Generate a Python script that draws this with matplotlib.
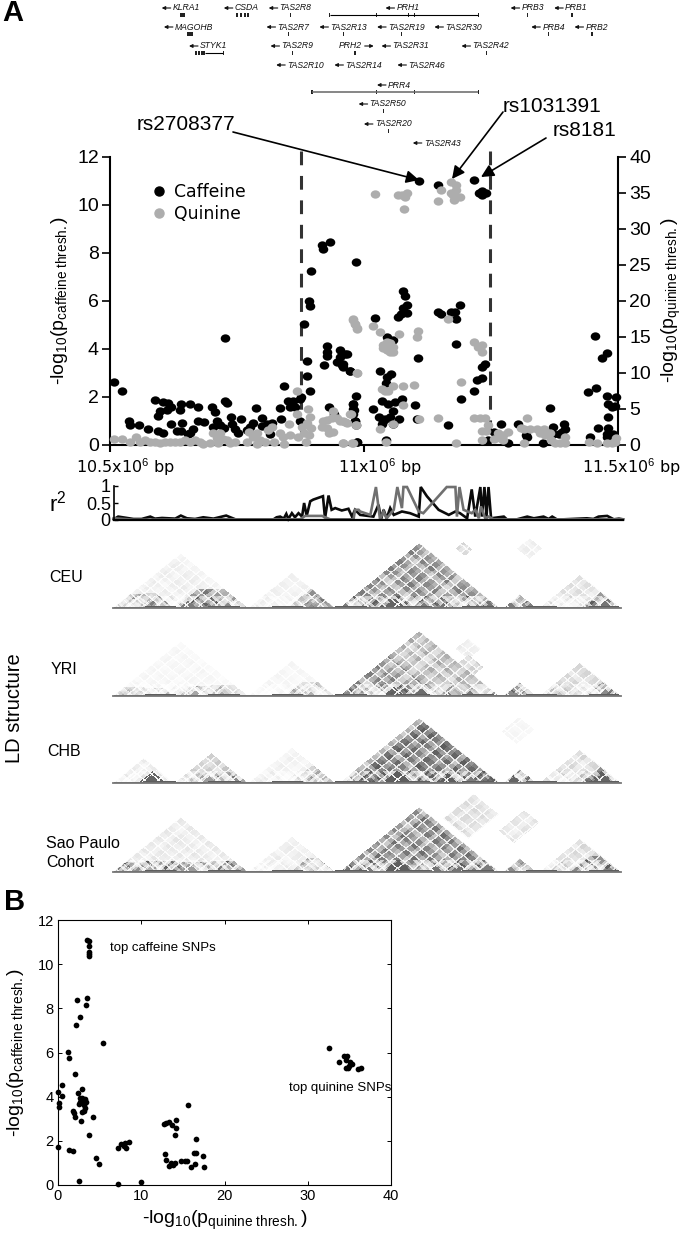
import numpy as np
import matplotlib
matplotlib.use("Agg")
import matplotlib.pyplot as plt
from matplotlib.colors import LinearSegmentedColormap
from matplotlib.markers import MarkerStyle
from matplotlib.transforms import Affine2D
from matplotlib.lines import Line2D

plt.rcParams['font.family'] = ['Liberation Sans', 'DejaVu Sans']
plt.rcParams['mathtext.fontset'] = 'custom'
plt.rcParams['mathtext.rm'] = 'Liberation Sans'
plt.rcParams['mathtext.it'] = 'Liberation Sans:italic'
plt.rcParams['mathtext.bf'] = 'Liberation Sans:bold'

W, H = 686, 1238

# ---- panel A scatter (kb after 10.5 Mb, -log10 p)
caffeine_kb = [8,24,37,39,58,75,89,95,99,95,105,105,115,112,121,121,131,139,138,141,139,154,157,164,157,174,174,185,
    200,207,210,203,217,225,226,230,226,238,241,247,252,257,269,281,276,287,299,299,310,318,315,337,335,343,351,354,
    361,364,374,375,374,382,387,388,393,391,394,395,417,420,434,484,427,427,427,422,453,466,452,446,459,456,472,484,
    478,480,432,440,482,486,
    609,645,717,732,740,732,727,577,580,584,577,584,572,566,522,645,652,671,679,681,688,545,558,681,607,738,732,732,
    722,717,691,665,532,553,545,543,459,463,472,479,478,479,482,484,486,518,535,548,561,575,557,600,530,541,551,569,
    535,538,605,557,543,745,756,770,784,804,820,819,866,873,894,896,883,889,853,873,955,979,968,940,957,978,981,988,
    994,996,980,961,981,944,978,991,978]
caffeine_val = [2.62,2.25,.97,.8,.82,.65,1.87,1.2,1.4,.58,.47,1.76,1.72,1.45,1.55,.86,.58,1.7,1.45,.9,.58,.45,1.7,.65,.5,1.55,.97,.93,
    1.55,1.35,1.0,.75,.8,.68,1.8,1.74,4.44,1.14,.86,.65,.47,1.05,.6,.9,.72,1.54,1.1,.78,.86,.9,.45,1.05,1.53,2.42,1.8,1.55,
    1.83,1.55,1.9,2.0,.97,5.03,3.47,2.87,2.25,5.97,5.76,7.22,8.33,8.14,8.44,7.6,4.12,3.85,3.67,3.3,3.92,3.78,3.64,3.43,3.36,3.3,3.08,2.04,
    1.7,1.42,1.55,1.28,1.0,.1,
    11.0,10.8,11.03,10.58,10.5,10.38,10.5,6.39,6.17,5.83,5.7,5.49,5.44,5.3,5.26,5.53,5.44,5.53,5.53,5.24,5.83,4.5,4.36,4.17,3.61,3.36,3.22,2.78,
    2.69,2.24,1.89,.8,3.08,2.92,2.8,2.57,3.25,3.78,3.08,1.7,1.49,1.28,.97,.8,.12,1.46,1.83,1.67,1.76,1.9,1.39,1.64,1.14,1.07,1.14,1.05,
    .86,1.0,1.05,.86,.17,.17,.51,.86,.06,.86,.3,.4,1.53,.75,.86,.65,.44,.51,.06,.44,4.54,3.82,3.61,2.17,2.37,2.04,1.7,1.55,
    1.62,1.97,1.14,.68,.68,.3,.44,.44,.3]
quinine_kb = [7,23,39,52,59,69,79,89,98,108,118,128,138,148,157,167,177,184,197,203,210,217,223,213,230,236,246,269,274,282,
    289,295,289,305,312,318,322,343,335,341,353,354,369,369,371,378,381,389,393,387,395,391,385,420,417,427,432,438,438,427,
    437,446,459,466,458,477,479,482,486,486,474,484,
    522,566,574,585,581,579,671,682,652,671,682,676,688,678,645,479,482,486,518,532,568,607,604,665,545,538,537,551,558,558,
    545,551,541,717,732,725,732,486,535,541,548,558,577,599,691,577,472,463,453,484,645,609,558,532,717,728,738,732,745,740,
    732,478,459,543,681,755,768,774,784,774,764,820,810,814,827,840,854,846,856,866,869,814,876,886,896,896,942,958,978,994,988,997]
quinine_val = [.74,.74,.4,1.1,.3,.65,.3,.3,.2,.3,.4,.3,.4,.65,.3,.65,.3,.1,.2,1.6,.9,1.6,.74,.2,.65,.2,.4,.4,1.8,1.1,
    1.6,.65,.1,.4,2.0,2.5,.3,.1,1.6,1.1,2.9,1.3,7.4,4.3,1.1,2.5,1.6,4.9,3.8,3.0,2.3,1.3,.3,3.2,2.5,2.3,1.6,1.8,4.7,3.4,
    3.7,3.7,3.2,3.0,.2,.2,17.3,16.8,16.2,10.0,4.3,2.7,
    34.8,34.6,34.7,34.9,34.4,32.7,36.4,36.1,35.3,35.0,35.3,34.7,34.4,33.9,33.8,17.4,16.7,16.1,16.5,15.6,15.3,15.7,14.9,17.5,14.3,13.8,13.4,14.1,13.6,12.9,
    13.1,12.9,13.6,14.2,13.8,13.6,12.8,10.0,7.7,7.4,7.5,8.1,8.1,8.3,8.7,5.5,4.3,3.1,3.2,2.7,3.75,3.6,2.9,2.1,3.7,3.75,3.75,1.9,2.7,1.9,
    .65,.2,.2,.4,.2,.74,.9,1.3,1.8,.65,1.6,3.7,2.3,2.1,2.1,2.1,2.1,1.6,1.3,1.6,.65,.2,.2,.2,.2,1.0,.4,.2,.2,.4,.2,.9]

# ---- r2 traces
r2_black_kb = [0,9,22,39,55,72,81,95,108,121,132,144,160,176,196,221,239,255,314,320,327,334,339,343,350,356,363,370,374,379,386,392,411,415,422,428,435,448,461,468,474,484,
    510,520,525,530,536,543,550,566,582,599,603,615,638,658,671,680,694,703,710,720,723,728,732,736,741,766,772,792,812,825,844,854,861,870,884,929,942,952,969,982,992,1000]
r2_black = [.02,.1,.07,.03,.03,.1,.04,.06,.05,.04,.13,.05,.03,.08,.04,.13,.02,.01,.02,.08,.1,.04,.18,.03,.2,.08,.2,.1,.5,.12,.55,.6,.7,.05,.72,.3,.35,.28,.33,.1,.3,.15,
    .1,.45,.02,.3,.05,.35,.15,.25,.2,.1,.97,.7,.3,.15,.25,.2,.05,.9,.1,.97,.1,.97,.1,.97,.05,.1,.02,.02,.1,.05,.1,.03,.1,.02,.02,.05,.03,.1,.12,.02,.04,.02]
r2_grey_kb = [0,39,200,366,376,392,409,425,471,474,481,484,504,515,523,530,536,550,557,566,569,576,599,608,654,671,674,679,687,703,710,717,721,730,736,746,988,1000]
r2_grey = [.05,.01,.02,.02,.12,.12,.12,.02,.02,.3,.3,.25,.15,.97,.02,.25,.05,.3,.97,.35,.97,.97,.25,.2,.97,.97,.1,.97,.3,.2,.3,.05,.4,.03,.1,.02,.02,.02]

# ---- LD panels: (first kb, last kb, level, max span) triangles, (a0,a1,b0,b1,level) patches, solid triangles
ld_names = ['CEU', 'YRI', 'CHB', 'Sao Paulo\nCohort']
ld_triangles = [
    [(0,122,.55,70),(0,266,.14,300),(122,266,.85,90),(266,437,.12,300),(345,437,.7,90),(447,762,.8,400),(768,834,.8,90),(840,1000,.25,220),(920,1000,.7,90)],
    [(0,122,.35,40),(0,266,.08,300),(122,266,.4,50),(266,437,.08,300),(340,437,.4,70),(447,640,.8,250),(447,762,.55,400),(768,834,.7,90),(840,1000,.3,220),(930,1000,.65,70)],
    [(0,122,.15,120),(122,266,.4,200),(190,266,.7,50),(266,437,.12,300),(350,437,.5,80),(447,762,1.0,400),(768,834,.9,90),(840,1000,.3,220),(920,1000,.95,90)],
    [(0,266,.18,330),(0,266,.7,50),(266,437,.15,300),(350,437,.55,70),(447,762,.9,400),(768,834,.65,90),(840,1000,.3,220),(900,1000,.75,80)],
]
ld_patches = [
    [(530,565,820,850,.3),(650,700,940,990,.14),(458,480,530,560,.85),(560,600,650,700,.8)],
    [(600,660,700,800,.35),(560,610,790,840,.14),(480,510,560,590,.85)],
    [(470,560,640,700,.14),(640,700,890,960,.08),(560,610,620,680,.98)],
    [(520,620,780,900,.28),(660,720,860,960,.22),(470,520,530,590,.9),(520,560,610,660,.85)],
]
ld_solid = [
    [(532,578,.95),(447,470,.8),(485,500,.75),(600,625,.8),(640,665,.85),(690,710,.75),(730,755,.85),(770,795,.8),(800,820,.7),(950,985,.85),(130,165,.8),(175,200,.7),(215,240,.7),(60,90,.55),(375,405,.55)],
    [(532,575,.95),(450,475,.7),(590,625,.9),(650,670,.8),(690,715,.8),(740,760,.6),(772,800,.7),(955,985,.7),(150,175,.55),(205,225,.5),(380,400,.5)],
    [(50,106,.95),(175,205,.6),(228,255,.7),(530,590,1.0),(640,680,1.0),(690,720,.8),(730,760,.9),(775,805,.95),(940,985,.95)],
    [(535,590,1.0),(450,480,.85),(490,515,.8),(620,650,.85),(670,700,.85),(720,755,.8),(772,795,.7),(960,990,.75),(60,85,.5),(130,170,.6)],
]
ld_cuts = [0,14,26,41,55,70,82,98,110,122,138,152,166,180,196,212,228,246,266,285,300,318,335,350,366,382,400,418,437,
    447,462,478,490,506,520,540,552,570,586,598,618,634,650,664,684,700,716,730,748,762,768,782,796,810,834,
    840,856,870,888,902,920,934,950,966,980,1000]
ld_weights = [.95,.45,1.0,.7,.3,.9,.6,1.0,.4,.85,.55,1.0,.25,.8,1.0,.5,.95,.65,.35,1.0,.75,.5,.9,.3,1.0,.6,.85,.45]

# ---- panel B scatter
b_quinine = [3.49,3.7,3.73,3.73,3.69,3.69,2.28,3.49,3.33,2.69,2.16,5.37,1.2,1.36,2.08,.48,0,.52,2.89,2.36,.08,.16,2.6,2.93,3.2,2.69,3,3.33,2.52,3.13,3.29,3.09,2.93,1.84,1.88,2.04,2.8,4.17,3.77,.04,1.36,1.8,4.61,4.93,2.52,7.25,9.98,
    7.25,7.6,8,7.9,8.2,8.54,12.7,13.0,13.35,13.7,14.15,14.2,14.07,15.6,16.55,12.9,13.0,13.3,13.55,13.83,14,14.8,15.2,15.55,16,16.5,16.35,16.6,17.4,17.5,
    32.6,34.35,34.7,33.8,34.6,35.07,35.35,35,34.55,34.83,36,36.35]
b_caffeine = [11.09,11.06,10.82,10.57,10.45,10.37,8.38,8.48,8.17,7.62,7.26,6.42,6.02,5.77,5.04,4.51,4.2,4.02,4.36,4.18,3.7,3.52,3.92,3.92,3.9,3.77,3.77,3.74,3.67,3.62,3.47,3.37,3.3,3.37,3.25,3.09,2.91,3.09,2.28,1.72,1.57,1.54,1.21,.95,.18,.06,.15,
    1.69,1.86,1.9,1.77,1.66,1.93,2.76,2.82,2.87,2.73,2.93,2.6,2.26,3.64,2.07,1.4,1.15,.86,.98,.9,.98,1.1,1.09,1.1,.83,.95,1.46,1.43,1.3,.82,
    6.19,5.86,5.86,5.57,5.66,5.55,5.48,5.4,5.28,5.28,5.25,5.3]

# ---- gene track: name, label x, row y, direction, exon/tick spans, intron line
genes = [
    ('KLRA1',172.7,8,-1,[(180,185)],None,'k'), ('CSDA',234.8,8,-1,[(236,238),(240,242),(244,246),(247,249)],None,'k'),
    ('TAS2R8',279.7,8,-1,[(290.4,291)],None,'k'),
    ('PRH1',396.5,8,-1,[(329.2,330),(376.4,377),(408.1,408.7),(414.2,414.8),(478,478.6)],(329.5,478.4),'k'),
    ('PRB3',521.6,8,-1,[(526.5,528)],None,'k'), ('PRB1',565.2,8,-1,[(571,572.5)],None,'k'),
    ('MAGOHB',174.9,27,-1,[(186.8,192.5)],None,'k'), ('TAS2R7',277.5,27,-1,[(288.2,288.8)],None,'k'),
    ('TAS2R13',330.4,27,-1,[(342.9,343.5)],None,'k'), ('TAS2R19',388.1,27,-1,[(401,401.6)],None,'k'),
    ('TAS2R30',445.4,27,-1,[(458.7,459.3)],None,'k'), ('PRB4',542.3,27,-1,[(547.8,549.2)],None,'k'),
    ('PRB2',585.5,27,-1,[(591.2,592.8)],None,'k'),
    ('STYK1',200,46,-1,[(194.7,196.5),(197.5,199.5),(200.5,204.8),(223,223.6)],(204.8,223.3),'k'),
    ('TAS2R9',281.5,46,-1,[(292.2,292.8)],None,'k'), ('PRH2',339.2,46,1,[(354,356)],None,'k'),
    ('TAS2R31',392.5,46,-1,[(405.7,406.3)],None,'k'), ('TAS2R42',472.5,46,-1,[(486,486.6)],None,'k'),
    ('TAS2R10',287.2,65,-1,[(300.6,301.2)],None,'k'), ('TAS2R14',345.4,65,-1,[(357.7,358.3)],None,'k'),
    ('TAS2R46',408.4,65,-1,[(421.7,422.3)],None,'k'),
    ('PRR4',388,85,-1,[(311,312.5),(376.4,377),(414.2,414.8),(478,478.6)],(311.5,478.4),'#666666'),
    ('TAS2R50',369.6,104,-1,[(383,383.6)],None,'k'), ('TAS2R20',374.9,124,-1,[(388.2,388.8)],None,'k'),
    ('TAS2R43',423.8,143,-1,[(436.7,437.3)],None,'k'),
]

snp_labels = ['rs2708377', 'rs1031391', 'rs8181']
legend_labels = ['Caffeine', 'Quinine']
x_tick_labels = ['10.5x10$^{6}$ bp', '11x10$^{6}$ bp', '11.5x10$^{6}$ bp']
label_caf = r'-log$_{10}$(p$_{\mathrm{caffeine\ thresh.}}$)'
label_qui = r'-log$_{10}$(p$_{\mathrm{quinine\ thresh.}}$)'

BLACK = '#000000'
GREY = '#adadad'

fig = plt.figure(figsize=(W/100, H/100), dpi=100, facecolor='white')

def axbox(x0, y0, x1, y1, **kw):
    return fig.add_axes([x0/W, 1-y1/H, (x1-x0)/W, (y1-y0)/H], **kw)

def fp(px, py):
    return (px/W, 1-py/H)

# overlay in pixel coordinates for genes and labels
bg = axbox(0, 0, W, H)
bg.set_xlim(0, W); bg.set_ylim(H, 0); bg.axis('off')
for name, tx, y, d, spans, line, col in genes:
    bg.text(tx, y, name, fontsize=6.2, style='italic', va='center', ha='left', color='#111111')
    if d < 0:
        bg.annotate('', xy=(tx-11, y), xytext=(tx-2, y),
                    arrowprops=dict(arrowstyle='-|>', lw=.8, color='#111111', fc='#111111', mutation_scale=5, shrinkA=0, shrinkB=0))
    else:
        bg.annotate('', xy=(tx+34.5, y), xytext=(tx+25.5, y),
                    arrowprops=dict(arrowstyle='-|>', lw=.8, color='#111111', fc='#111111', mutation_scale=5, shrinkA=0, shrinkB=0))
    ty = y + 6.5
    if line is not None:
        bg.plot(line, [ty, ty], color=col, lw=.8 if col == 'k' else 1.1, solid_capstyle='butt')
    for s0, s1 in spans:
        bg.fill_between([s0, s1], ty-2, ty+2, color='#222222', lw=0)

# main axes
ax = axbox(110, 156.5, 618, 444.5)
ax.patch.set_alpha(0)
ell = MarkerStyle('o', transform=Affine2D().scale(1.15, 1.0))
ax.scatter(caffeine_kb, caffeine_val, s=36, marker=ell, color=BLACK, lw=0, clip_on=False, zorder=3)
ax.set_xlim(0, 1000); ax.set_ylim(0, 12)
ax.set_yticks(range(0, 13, 2))
ax.set_xticks([0, 500, 1000]); ax.set_xticklabels([])
ax.spines['top'].set_visible(False)
ax.spines['right'].set_visible(False)
for s in ['left', 'bottom']:
    ax.spines[s].set_linewidth(1.5)
ax.tick_params(axis='y', labelsize=14, length=6, width=1.2, pad=2)
ax.tick_params(axis='x', length=5, width=1.5)
ax.set_ylabel(label_caf, fontsize=14, labelpad=5)
ax.vlines([375, 748], 12.25, 0, colors='#333333', lw=2.2, linestyles=(0, (4.5, 3.5)), clip_on=False, zorder=2)

ax2 = ax.twinx()
ax2.patch.set_alpha(0)
ax2.scatter(quinine_kb, quinine_val, s=36, marker=ell, color=GREY, lw=0, clip_on=False, zorder=3)
ax2.set_ylim(0, 40)
ax2.set_yticks(range(0, 41, 5))
ax2.spines['top'].set_visible(False); ax2.spines['left'].set_visible(False); ax2.spines['bottom'].set_visible(False)
ax2.spines['right'].set_linewidth(1.5)
ax2.tick_params(axis='y', labelsize=14, length=6, width=1.2, pad=2)
ax2.set_ylabel(label_qui, fontsize=14, labelpad=6)

handles = [Line2D([], [], ls='', marker='o', ms=6.5, color=BLACK), Line2D([], [], ls='', marker='o', ms=6.5, color=GREY)]
ax2.legend(handles, legend_labels, loc='upper left', bbox_to_anchor=(0.062, 0.908), frameon=False,
           prop={'family': 'DejaVu Sans', 'size': 12.4}, handletextpad=-0.1, labelspacing=0.22, borderpad=0, borderaxespad=0)

for lab, cx in zip(x_tick_labels, [125, 380, 631]):
    fig.text(*fp(cx, 467), lab, fontsize=11.5, family='DejaVu Sans', ha='center', va='center')

# SNP annotations
for lab, tx, ty, sx, sy, ex, ey in zip(snp_labels, [136.6, 503, 553], [124, 107, 130],
                                       [233, 503, 546], [132, 112, 138], [419, 452, 481], [180, 179, 177]):
    fig.text(*fp(tx, ty), lab, fontsize=15, ha='left', va='center')
    bg.annotate('', xy=(ex, ey), xytext=(sx, sy),
                arrowprops=dict(arrowstyle='-|>', lw=1.2, color='k', fc='k', mutation_scale=19, shrinkA=0, shrinkB=0), zorder=10)

# r2 panel
axr = axbox(113.6, 486, 623, 520)
axr.plot(r2_black_kb, r2_black, color='#0a0a0a', lw=1.9, clip_on=False, solid_joinstyle='miter')
axr.plot(r2_grey_kb, r2_grey, color='#707070', lw=1.9, clip_on=False, solid_joinstyle='miter')
axr.set_xlim(0, 1000); axr.set_ylim(0, 1)
axr.set_yticks([0, .5, 1]); axr.set_yticklabels(['0', '0.5', '1'])
axr.set_xticks([])
axr.spines['top'].set_visible(False); axr.spines['right'].set_visible(False)
axr.spines['left'].set_linewidth(1.2); axr.spines['bottom'].set_linewidth(1.6)
axr.tick_params(axis='y', labelsize=13, length=3, width=1, direction='in', pad=2)
axr.patch.set_alpha(0)
fig.text(*fp(58, 504), 'r$^{2}$', fontsize=16, ha='center', va='center')

# LD panels
cmap = LinearSegmentedColormap.from_list('ld', ['#ffffff', '#cfcfcf', '#909090', '#5e5e5e'])
step = 2.0
grid = np.arange(0, 1000 + step, step)
A, B = np.meshgrid(grid, grid)
centers = grid[:-1] + step/2
CA, CB = np.meshgrid(centers, centers)
all_cuts = np.array(ld_cuts, float)
fine_cuts = np.sort(np.concatenate([all_cuts, (all_cuts[1:] + all_cuts[:-1]) / 2]))
seg_a = np.searchsorted(all_cuts, CA, side='right')
seg_b = np.searchsorted(all_cuts, CB, side='right')
fine_a = np.searchsorted(fine_cuts, CA, side='right')
fine_b = np.searchsorted(fine_cuts, CB, side='right')
on_cut_a = np.min(np.abs(CA[..., None] - all_cuts[::2]), axis=-1) < step * .75
on_cut_b = np.min(np.abs(CB[..., None] - all_cuts[1::2]), axis=-1) < step * .75
X = (A + B) / 2
Y = (B - A) / 2 * 0.508 * 0.81

for idx, (base, top) in enumerate(zip([608, 696, 783, 872], [529, 617, 704, 793])):
    nw = len(ld_weights)
    w = np.array([ld_weights[(i + idx*5) % nw] for i in range(len(ld_cuts) + 1)])
    wf = np.array([ld_weights[(i*3 + idx*7) % nw] for i in range(len(fine_cuts) + 1)])
    M = np.zeros_like(CA)
    for a0, a1, lev, span in ld_triangles[idx]:
        mask = (CA >= a0) & (CB <= a1) & (CB - CA <= span) & (CB > CA)
        M = np.where(mask, np.maximum(M, lev), M)
    for a0, a1, b0, b1, lev in ld_patches[idx]:
        mask = (CA >= a0) & (CA <= a1) & (CB >= b0) & (CB <= b1)
        M = np.where(mask, np.maximum(M, lev), M)
    M = M * np.sqrt(w[seg_a] * w[seg_b])
    M = np.where((CB - CA) < 60, M * wf[fine_a] * wf[fine_b] * 1.5, M)
    M = np.where(on_cut_a | on_cut_b, M * .2, M)
    for a0, a1, lev in ld_solid[idx]:
        mask = (CA >= a0) & (CB <= a1) & (CB > CA)
        M = np.where(mask & ~(on_cut_a | on_cut_b), np.maximum(M, lev), M)
    M = np.where(((CB - CA) < 8) & (CB > CA), 1.0, M)
    axl = axbox(113, top, 621, base)
    axl.pcolormesh(X, Y, np.ma.masked_where(CB <= CA, M), cmap=cmap, vmin=0, vmax=1, shading='flat', antialiased=False, rasterized=True)
    axl.set_xlim(0, 1000); axl.set_ylim(0, base - top)
    axl.set_xticks([]); axl.set_yticks([])
    for s in ['top', 'left', 'right']:
        axl.spines[s].set_visible(False)
    axl.spines['bottom'].set_color('#777777'); axl.spines['bottom'].set_linewidth(1.3)

for lab, lx, ly in zip(ld_names, [49, 51, 47, 46], [578, 670, 752, 853]):
    fig.text(*fp(lx, ly), lab, fontsize=11.5, ha='left', va='center', linespacing=1.3)
fig.text(*fp(15, 708), 'LD structure', fontsize=14.5, rotation=90, ha='center', va='center')
fig.text(*fp(2, 13), 'A', fontsize=21, fontweight='bold', ha='left', va='center')
fig.text(*fp(4, 902), 'B', fontsize=21, fontweight='bold', ha='left', va='center')

# panel B
axb = axbox(58, 920, 391, 1185)
axb.scatter(b_quinine, b_caffeine, s=17, marker='o', color='k', lw=0, clip_on=False, zorder=3)
axb.set_xlim(0, 40); axb.set_ylim(0, 12)
axb.set_xticks(range(0, 41, 10)); axb.set_yticks(range(0, 13, 2))
axb.tick_params(direction='in', top=True, right=True, length=3, width=.7, labelsize=10.5, pad=3)
for s in axb.spines.values():
    s.set_linewidth(.8)
axb.set_xlabel(label_qui, fontsize=14, labelpad=4)
axb.set_ylabel(label_caf, fontsize=14, labelpad=8)
axb.text(6.2, 10.75, 'top caffeine SNPs', fontsize=9.5, va='center', ha='left')
axb.text(27.7, 4.38, 'top quinine SNPs', fontsize=9.5, va='center', ha='left')

fig.savefig('out.png', dpi=100, facecolor='white')
